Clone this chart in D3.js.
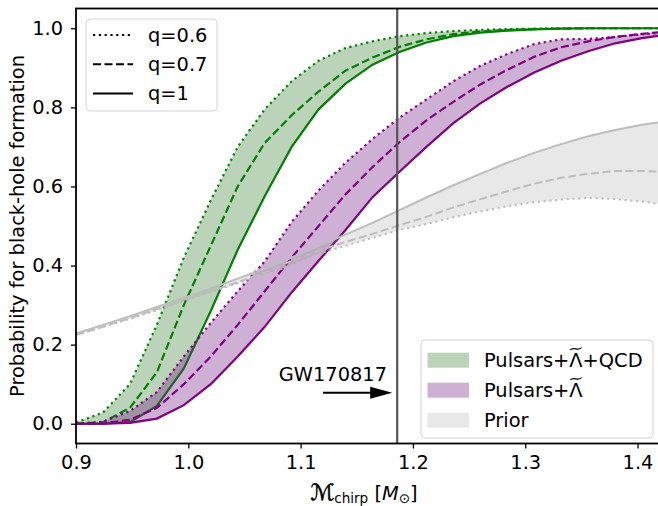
<!DOCTYPE html>
<html>
<head>
<meta charset="utf-8">
<script src="https://cdn.jsdelivr.net/npm/d3@7"></script>
<style>
  html, body { margin: 0; padding: 0; background: #fff; }
  svg { display: block; font-family: "DejaVu Sans", sans-serif; }
</style>
</head>
<body>
<svg id="chart" width="658" height="506"></svg>
<script>
// Chirp-mass grid (solar masses)
const chirpMass = [0.900, 0.924, 0.948, 0.972, 0.996, 1.020, 1.044, 1.068, 1.092, 1.116, 1.140,
                   1.164, 1.188, 1.212, 1.236, 1.260, 1.284, 1.308, 1.332, 1.356, 1.380, 1.404, 1.428];

// Pulsars + Lambda + QCD
const qcdQ06 = [0.003, 0.028, 0.100, 0.250, 0.420, 0.565, 0.700, 0.795, 0.866, 0.918, 0.950,
                0.967, 0.980, 0.988, 0.993, 0.996, 0.998, 0.999, 1.000, 1.000, 1.000, 1.000, 1.000];
const qcdQ07 = [0.000, 0.004, 0.040, 0.130, 0.300, 0.450, 0.600, 0.710, 0.780, 0.840, 0.893,
                0.926, 0.953, 0.972, 0.985, 0.992, 0.996, 0.998, 0.999, 1.000, 1.000, 1.000, 1.000];
const qcdQ1  = [0.000, 0.000, 0.004, 0.045, 0.140, 0.285, 0.440, 0.575, 0.700, 0.795, 0.860,
                0.908, 0.940, 0.964, 0.980, 0.989, 0.994, 0.997, 0.999, 1.000, 1.000, 1.000, 1.000];

// Pulsars + Lambda
const psrQ06 = [0.000, 0.005, 0.032, 0.080, 0.170, 0.255, 0.335, 0.410, 0.510, 0.590, 0.660,
                0.720, 0.774, 0.820, 0.866, 0.905, 0.935, 0.960, 0.972, 0.973, 0.978, 0.985, 0.990];
const psrQ07 = [0.000, 0.001, 0.010, 0.040, 0.100, 0.170, 0.250, 0.335, 0.420, 0.500, 0.580,
                0.649, 0.712, 0.767, 0.814, 0.858, 0.895, 0.928, 0.952, 0.967, 0.978, 0.986, 0.992];
const psrQ1  = [0.000, 0.000, 0.002, 0.013, 0.047, 0.100, 0.170, 0.245, 0.332, 0.412, 0.490,
                0.573, 0.637, 0.700, 0.760, 0.810, 0.852, 0.888, 0.918, 0.942, 0.962, 0.975, 0.985];

// Prior
const priorQ06 = [0.225, 0.245, 0.265, 0.287, 0.310, 0.333, 0.355, 0.378, 0.400, 0.430, 0.450,
                  0.470, 0.490, 0.505, 0.522, 0.537, 0.550, 0.560, 0.567, 0.571, 0.568, 0.562, 0.552];
const priorQ07 = [0.225, 0.245, 0.267, 0.290, 0.312, 0.335, 0.358, 0.382, 0.412, 0.437, 0.460,
                  0.480, 0.502, 0.523, 0.547, 0.568, 0.588, 0.607, 0.622, 0.632, 0.639, 0.639, 0.637];
const priorQ1  = [0.228, 0.250, 0.272, 0.295, 0.318, 0.342, 0.367, 0.392, 0.420, 0.450, 0.478,
                  0.508, 0.540, 0.572, 0.603, 0.632, 0.660, 0.685, 0.707, 0.727, 0.743, 0.756, 0.766];

const xTicks = [0.9, 1.0, 1.1, 1.2, 1.3, 1.4];
const yTicks = [0.0, 0.2, 0.4, 0.6, 0.8, 1.0];
const gwChirp = 1.186;

const ratioLabels = ["q=0.6", "q=0.7", "q=1"];
// Λ in the first two entries carries a wide tilde drawn separately
const bandLabels = ["Pulsars+Λ+QCD", "Pulsars+Λ", "Prior"];
const tildeIndex = [8, 8, -1];

const FONT = 19.4;
const svg = d3.select("#chart");
const plot = { left: 76, right: 660, top: 8.5, bottom: 443.5 };

const x = d3.scaleLinear().domain([0.9, 1.42]).range([plot.left, plot.right]);
const y = d3.scaleLinear().domain([-0.05, 1.05]).range([plot.bottom, plot.top]);

const dashStyles = { q06: "2.2,3.6", q07: "8,3.5", q1: null };

const families = [
  { q06: qcdQ06, q07: qcdQ07, q1: qcdQ1, line: "#008000", fill: "rgba(30,110,20,0.30)", width: 2.2 },
  { q06: psrQ06, q07: psrQ07, q1: psrQ1, line: "#800080", fill: "rgba(115,30,132,0.35)", width: 2.2 },
  { q06: priorQ06, q07: priorQ07, q1: priorQ1, line: "#bdbdbd", fill: "rgba(128,128,128,0.18)", width: 2 }
];

svg.append("defs").append("clipPath").attr("id", "plotClip")
  .append("rect")
  .attr("x", plot.left).attr("y", plot.top)
  .attr("width", plot.right - plot.left).attr("height", plot.bottom - plot.top);

const body = svg.append("g").attr("clip-path", "url(#plotClip)");

families.forEach(f => {
  const area = d3.area()
    .x((d, i) => x(chirpMass[i]))
    .y0((d, i) => y(f.q1[i]))
    .y1((d, i) => y(f.q06[i]));
  body.append("path").datum(chirpMass).attr("d", area).attr("fill", f.fill).attr("stroke", "none");

  ["q06", "q07", "q1"].forEach(k => {
    const line = d3.line().x((d, i) => x(chirpMass[i])).y(d => y(d));
    body.append("path").datum(f[k]).attr("d", line)
      .attr("fill", "none").attr("stroke", f.line).attr("stroke-width", f.width)
      .attr("stroke-dasharray", dashStyles[k]);
  });
});

// GW170817 chirp mass marker
body.append("line")
  .attr("x1", x(gwChirp)).attr("x2", x(gwChirp))
  .attr("y1", plot.top).attr("y2", plot.bottom)
  .attr("stroke", "#555").attr("stroke-width", 2.2);

// Axes
const xAxis = d3.axisBottom(x).tickValues(xTicks).tickFormat(d3.format(".1f")).tickSize(5).tickPadding(7);
const yAxis = d3.axisLeft(y).tickValues(yTicks).tickFormat(d3.format(".1f")).tickSize(5).tickPadding(8);

const gx = svg.append("g").attr("transform", `translate(0,${plot.bottom})`).call(xAxis);
const gy = svg.append("g").attr("transform", `translate(${plot.left},0)`).call(yAxis);
[gx, gy].forEach(g => {
  g.select(".domain").remove();
  g.selectAll(".tick line").attr("stroke", "#000").attr("stroke-width", 1.3);
  g.selectAll(".tick text").attr("font-size", FONT).attr("fill", "#000")
    .attr("font-family", "DejaVu Sans");
});

// Frame
svg.append("rect")
  .attr("x", plot.left).attr("y", plot.top)
  .attr("width", plot.right - plot.left).attr("height", plot.bottom - plot.top)
  .attr("fill", "none").attr("stroke", "#000").attr("stroke-width", 1.8);

// Axis labels
svg.append("text")
  .attr("transform", `translate(24,${(plot.top + plot.bottom) / 2}) rotate(-90)`)
  .attr("text-anchor", "middle").attr("font-size", FONT)
  .text("Probability for black-hole formation");

const xl = svg.append("text").attr("x", 364).attr("y", 500)
  .attr("text-anchor", "middle").attr("font-size", FONT);
xl.append("tspan").attr("font-style", "italic").attr("font-size", FONT * 1.15)
  .attr("stroke", "#000").attr("stroke-width", 0.5).text("ℳ");
xl.append("tspan").attr("font-size", FONT * 0.7).attr("dy", 3).text("chirp");
xl.append("tspan").attr("dy", -3).text(" [");
xl.append("tspan").attr("font-style", "italic").text("M");
xl.append("tspan").attr("font-size", FONT * 0.7).attr("dy", 3).text("⊙");
xl.append("tspan").attr("dy", -3).text("]");

// Annotation arrow
const arrowY = 392.7;
svg.append("line")
  .attr("x1", 323).attr("x2", 372).attr("y1", arrowY).attr("y2", arrowY)
  .attr("stroke", "#000").attr("stroke-width", 2);
svg.append("path")
  .attr("d", `M${x(gwChirp) - 5},${arrowY} L${x(gwChirp) - 27},${arrowY - 6} L${x(gwChirp) - 27},${arrowY + 6} Z`)
  .attr("fill", "#000");
svg.append("text").attr("x", 387).attr("y", 381).attr("text-anchor", "end")
  .attr("font-size", FONT).text("GW170817");

// Line-style legend
const lg1 = svg.append("g");
lg1.append("rect").attr("x", 86).attr("y", 19).attr("width", 131).attr("height", 92)
  .attr("rx", 4).attr("fill", "rgba(255,255,255,0.8)").attr("stroke", "#d4d4d4").attr("stroke-width", 1);
["q06", "q07", "q1"].forEach((k, i) => {
  const cy = 35 + i * 29.2;
  lg1.append("line").attr("x1", 93).attr("x2", 133).attr("y1", cy).attr("y2", cy)
    .attr("stroke", "#000").attr("stroke-width", 2).attr("stroke-dasharray", dashStyles[k]);
  lg1.append("text").attr("x", 148).attr("y", cy + 7).attr("font-size", FONT).text(ratioLabels[i]);
});

// Constraint legend
const lg2 = svg.append("g");
lg2.append("rect").attr("x", 421).attr("y", 340).attr("width", 232).attr("height", 98)
  .attr("rx", 4).attr("fill", "rgba(255,255,255,0.8)").attr("stroke", "#d4d4d4").attr("stroke-width", 1);
families.forEach((f, i) => {
  const cy = 360.2 + i * 30;
  lg2.append("rect").attr("x", 427.5).attr("y", cy - 7.5).attr("width", 41.5).attr("height", 15)
    .attr("fill", f.fill);
  const tx = 484, ty = cy + 7;
  const t = lg2.append("text").attr("x", tx).attr("y", ty).attr("font-size", FONT).text(bandLabels[i]);
  const k = tildeIndex[i];
  if (k >= 0) {
    const node = t.node();
    const x0 = tx + node.getSubStringLength(0, k) + 1;
    const w = node.getSubStringLength(k, 1) - 2;
    const yb = ty - 18.5;
    lg2.append("path")
      .attr("d", `M${x0},${yb + 1.2} C${x0 + w * 0.3},${yb - 2.8} ${x0 + w * 0.7},${yb + 3.2} ${x0 + w},${yb - 1.2}`)
      .attr("fill", "none").attr("stroke", "#000").attr("stroke-width", 1.2);
  }
});
</script>
</body>
</html>
